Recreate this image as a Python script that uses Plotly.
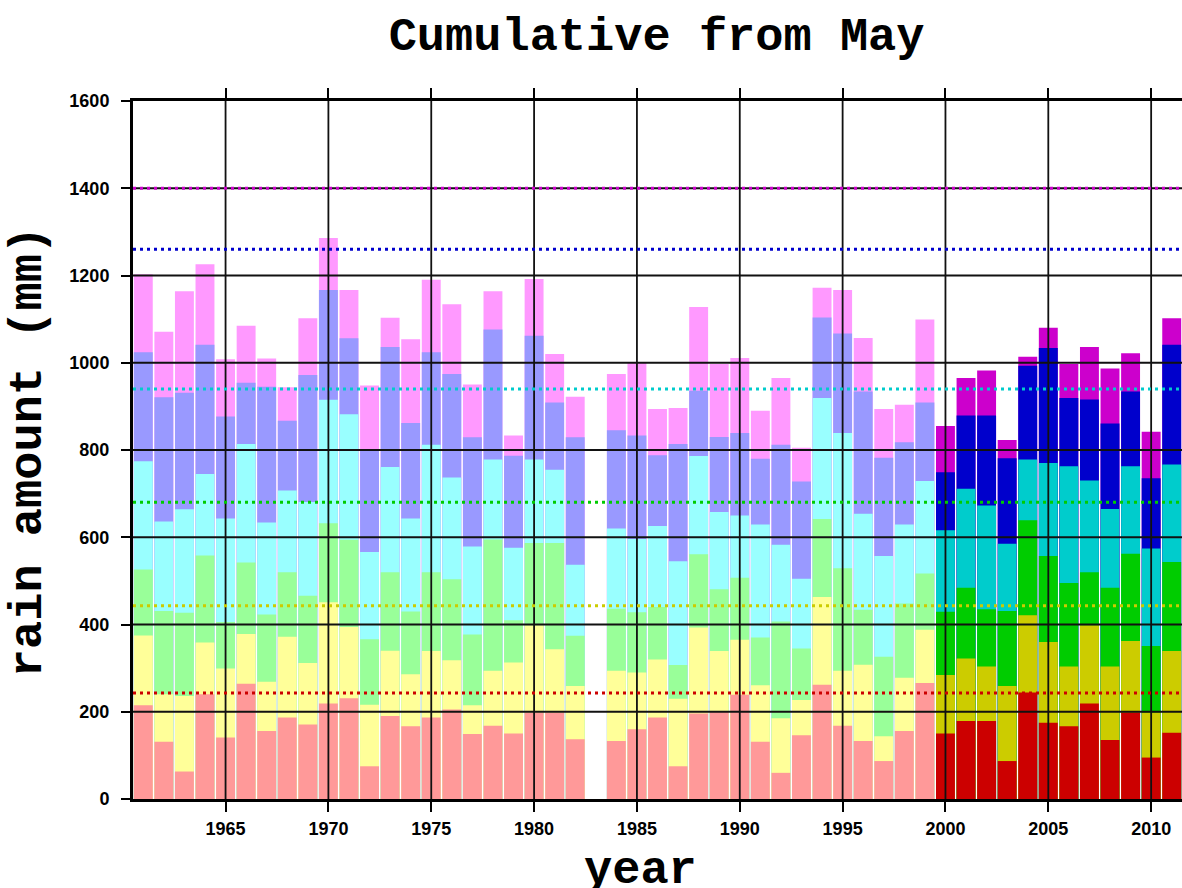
import plotly.graph_objects as go

years = list(range(1961, 2012))

# cumulative rain (mm) from May, end of each month
may = [215, 131, 63, 240, 141, 264, 156, 187, 171, 219, 231, 75, 190, 167, 187, 205, 149, 168,
       150, 198, 198, 137, None, 133, 160, 187, 75, 196, 202, 239, 131, 60, 146, 262, 168, 133,
       87, 156, 266, 150, 179, 179, 87, 244, 175, 167, 219, 135, 198, 95, 152]
jun = [375, 240, 236, 359, 299, 378, 269, 372, 312, 451, 394, 216, 340, 286, 339, 318, 215, 294,
       313, 398, 343, 259, None, 294, 290, 320, 230, 393, 339, 365, 261, 185, 227, 463, 294, 308,
       144, 278, 388, 284, 322, 304, 259, 421, 360, 304, 398, 304, 362, 198, 339]
jul = [526, 431, 427, 558, 406, 542, 423, 520, 466, 632, 594, 366, 520, 430, 520, 504, 377, 595,
       410, 587, 587, 374, None, 436, 428, 440, 307, 561, 481, 507, 370, 407, 345, 642, 529, 434,
       326, 448, 517, 429, 484, 435, 431, 639, 557, 495, 520, 484, 562, 351, 543]
aug = [774, 636, 664, 745, 643, 814, 634, 707, 681, 915, 882, 566, 761, 643, 812, 737, 579, 778,
       576, 778, 755, 537, None, 620, 596, 626, 545, 786, 658, 650, 629, 583, 505, 919, 839, 654,
       557, 629, 729, 616, 711, 673, 585, 778, 770, 763, 730, 665, 763, 574, 767]
sep = [1024, 921, 931, 1041, 877, 954, 945, 867, 972, 1167, 1056, 801, 1036, 862, 1024, 974, 829, 1076,
       787, 1062, 909, 829, None, 845, 833, 788, 814, 936, 830, 839, 780, 812, 728, 1104, 1067, 934,
       782, 818, 909, 749, 879, 879, 781, 993, 1034, 919, 916, 861, 934, 735, 1041]
oct_ = [1203, 1071, 1164, 1226, 1008, 1085, 1010, 944, 1102, 1286, 1167, 948, 1103, 1054, 1190, 1134, 950, 1164,
        833, 1192, 1020, 922, None, 974, 1002, 894, 896, 1128, 997, 1011, 890, 965, 805, 1172, 1167, 1057,
        894, 904, 1099, 855, 965, 982, 823, 1014, 1080, 997, 1036, 987, 1022, 842, 1102]

# climatological cumulative means (dotted lines)
clim_values = [243, 443, 680, 940, 1260, 1400]
clim_colors = ["#CC0000", "#CCCC00", "#00CC00", "#00CCCC", "#0000CC", "#CC00CC"]

light_colors = ["#FF9999", "#FFFF99", "#99FF99", "#99FFFF", "#9999FF", "#FF99FF"]
dark_colors = ["#CC0000", "#CCCC00", "#00CC00", "#00CCCC", "#0000CC", "#CC00CC"]
recent_from = 2000

y_ticks = [0, 200, 400, 600, 800, 1000, 1200, 1400, 1600]
x_ticks = [1965, 1970, 1975, 1980, 1985, 1990, 1995, 2000, 2005, 2010]

series = [may, jun, jul, aug, sep, oct_]
names = ["May", "Jun", "Jul", "Aug", "Sep", "Oct"]

fig = go.Figure()
for i in reversed(range(len(series))):
    cols = [dark_colors[i] if y >= recent_from else light_colors[i] for y in years]
    fig.add_trace(go.Bar(x=years, y=series[i], name=names[i],
                         marker=dict(color=cols, line=dict(width=0)),
                         showlegend=False))

shapes = []
for yv in y_ticks[1:-1]:
    shapes.append(dict(type="line", xref="paper", x0=0, x1=1, yref="y", y0=yv, y1=yv,
                       line=dict(color="#111111", width=1.8), layer="above"))
for xv in x_ticks:
    shapes.append(dict(type="line", xref="x", x0=xv, x1=xv, yref="paper", y0=0, y1=1,
                       line=dict(color="#111111", width=1.8), layer="above"))
for v, c in zip(clim_values, clim_colors):
    shapes.append(dict(type="line", xref="paper", x0=0, x1=1, yref="y", y0=v, y1=v,
                       line=dict(color=c, width=3, dash="3px,4px"), layer="above"))

tickfont = dict(family="Liberation Sans, Arial, sans-serif", size=18, color="black", weight="bold")
bigfont = dict(family="Liberation Mono, Courier New, monospace", size=47, color="black", weight="bold")

fig.update_layout(
    width=1182, height=888,
    margin=dict(l=133, r=0, t=101, b=89),
    paper_bgcolor="white", plot_bgcolor="white",
    barmode="overlay", bargap=0.08,
    shapes=shapes,
    title=dict(text="Cumulative from May", x=0.5555, xanchor="center", y=0.962, yanchor="middle",
               font=bigfont),
    xaxis=dict(range=[1960.5, 2011.5], tickvals=x_ticks, ticktext=[str(v) for v in x_ticks],
               showgrid=False, zeroline=False, showline=True, linecolor="black", linewidth=3,
               mirror="ticks", ticks="outside", ticklen=10, tickwidth=2, tickcolor="black",
               tickfont=tickfont, ticklabelstandoff=1),
    yaxis=dict(range=[0, 1600], tickvals=y_ticks, ticktext=[str(v) for v in y_ticks],
               showgrid=False, zeroline=False, showline=True, linecolor="black", linewidth=3,
               ticks="outside", ticklen=9, tickwidth=2, tickcolor="black",
               tickfont=tickfont, ticklabelstandoff=8),
    annotations=[
        dict(text="year", xref="paper", x=0.484, yref="paper", y=-0.102, yanchor="middle",
             showarrow=False, font=bigfont),
        dict(text="rain amount (mm)", xref="paper", x=-0.1, xanchor="center", yref="paper", y=0.497,
             yanchor="middle", textangle=-90, showarrow=False, font=bigfont),
    ],
)

fig.write_html("out.html")
